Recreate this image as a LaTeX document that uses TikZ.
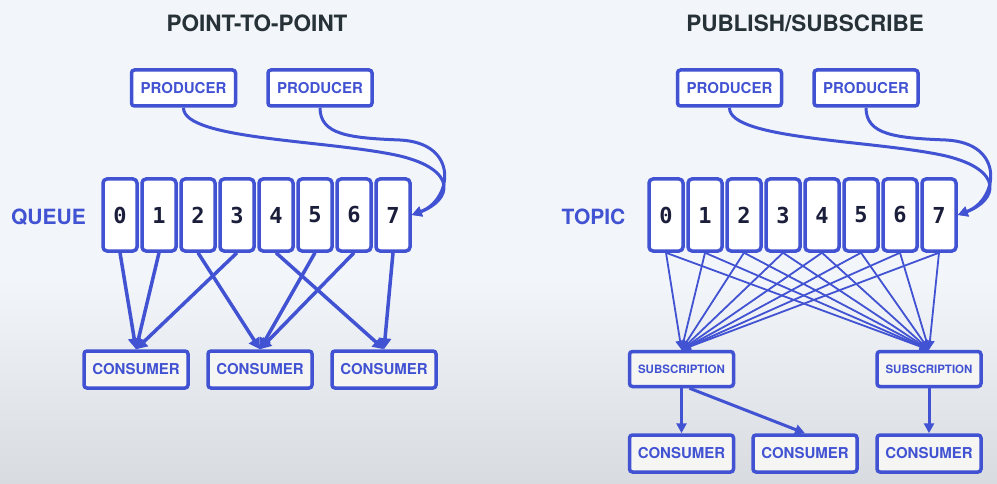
\documentclass[tikz,border=0pt]{standalone}
\usepackage{fontspec}
\setmainfont{TeX Gyre Heros}
\newfontfamily\digitfont{DejaVu Sans Mono}
\usetikzlibrary{arrows.meta}
\definecolor{ibmblue}{HTML}{4152D2}
\definecolor{titlecol}{HTML}{263238}
\definecolor{digitcol}{HTML}{1B1E3A}
\definecolor{bgtop}{HTML}{F2F6FA}
\definecolor{bgbot}{HTML}{D8DBDF}
\definecolor{boxgrey}{HTML}{F5F5F4}
\tikzset{
  box/.style={draw=ibmblue, line width=3.5pt, rounded corners=3pt, fill=white, inner sep=0pt,
    text=ibmblue, font=\bfseries\fontsize{15}{15}\selectfont},
  prod/.style={box, minimum width=104pt, minimum height=36pt},
  cons/.style={box, fill=boxgrey, minimum width=104pt, minimum height=37pt},
  subs/.style={box, fill=boxgrey, minimum width=104pt, minimum height=35pt,
    font=\bfseries\fontsize{11.5}{11.5}\selectfont},
  cell/.style={draw=ibmblue, line width=3.5pt, rounded corners=4pt, fill=white,
    minimum width=34pt, minimum height=72pt, inner sep=0pt, text=digitcol,
    font=\digitfont\bfseries\fontsize{22}{22}\selectfont},
  title/.style={text=titlecol, inner sep=0pt, anchor=base, font=\bfseries\fontsize{22.5}{22.5}\selectfont},
  side/.style={text=ibmblue, inner sep=0pt, anchor=base, font=\bfseries\fontsize{21}{21}\selectfont},
  arr/.style={draw=ibmblue, line width=3.5pt, -{Triangle[length=11pt,width=12pt]}},
  arrtwo/.style={draw=ibmblue, line width=3pt, -{Triangle[length=10pt,width=10pt]}},
  fan/.style={draw=ibmblue, line width=1.8pt, -{Triangle[length=9pt,width=9pt]}},
  curve/.style={draw=ibmblue, line width=3pt, -{Triangle[length=10pt,width=10pt]}},
}
\begin{document}
\begin{tikzpicture}[x=1pt,y=-1pt]
\fill[bgtop] (0,0) rectangle (997,484);
\shade[top color=bgtop, bottom color=bgbot] (0,280) rectangle (997,484);
\useasboundingbox (0,0) rectangle (997,484);

% titles
\node[title] (t-left) at (257,32) {POINT-TO-POINT};
\node[title] (t-right) at (805,32) {PUBLISH/SUBSCRIBE};
\node[side] (queue) at (48.5,225) {QUEUE};
\node[side] (topic) at (593.5,225) {TOPIC};

% ---------- left: point-to-point ----------
\node[prod] (p1) at (183.5,88) {PRODUCER};
\node[prod] (p2) at (320,88) {PRODUCER};
\foreach \i in {0,...,7} {
  \node[cell] (c\i) at (120+39*\i,215) {\i};
}
\node[cons] (k1) at (136,369.5) {CONSUMER};
\node[cons] (k2) at (260,369.5) {CONSUMER};
\node[cons] (k3) at (384,369.5) {CONSUMER};
\foreach \i/\j in {0/1,1/1,2/2,3/1,4/3,5/2,6/2,7/3} {
  \draw[arr] (c\i.south) -- (k\j.north);
}
\draw[curve] (p1.south) .. controls (183,140) and (330,140) .. (400,156)
  .. controls (458,170) and (452,200) .. (c7.east);
\draw[curve] (p2.south) .. controls (320,135) and (350,138) .. (400,140)
  .. controls (460,143) and (452,200) .. (c7.east);

% ---------- right: publish/subscribe ----------
\begin{scope}[xshift=546pt]
\node[prod] (q1) at (183.5,88) {PRODUCER};
\node[prod] (q2) at (320,88) {PRODUCER};
\foreach \i in {0,...,7} {
  \node[cell] (t\i) at (120+39*\i,215) {\i};
}
\draw[curve] (q1.south) .. controls (183,140) and (330,140) .. (400,156)
  .. controls (458,170) and (452,200) .. (t7.east);
\draw[curve] (q2.south) .. controls (320,135) and (350,138) .. (400,140)
  .. controls (460,143) and (452,200) .. (t7.east);
\end{scope}
\node[subs] (s1) at (681.5,369) {SUBSCRIPTION};
\node[subs] (s2) at (929,369) {SUBSCRIPTION};
\node[cons] (r1) at (681.5,453.5) {CONSUMER};
\node[cons] (r2) at (805,453.5) {CONSUMER};
\node[cons] (r3) at (929,453.5) {CONSUMER};
\foreach \i in {0,...,7} {
  \draw[fan] (t\i.south) -- (s1.north);
  \draw[fan] (t\i.south) -- (s2.north);
}
\draw[arrtwo] (s1.south) -- (r1.north);
\draw[arrtwo] ([xshift=8pt]s1.south) -- (r2.north);
\draw[arrtwo] (s2.south) -- (r3.north);
\end{tikzpicture}
\end{document}
